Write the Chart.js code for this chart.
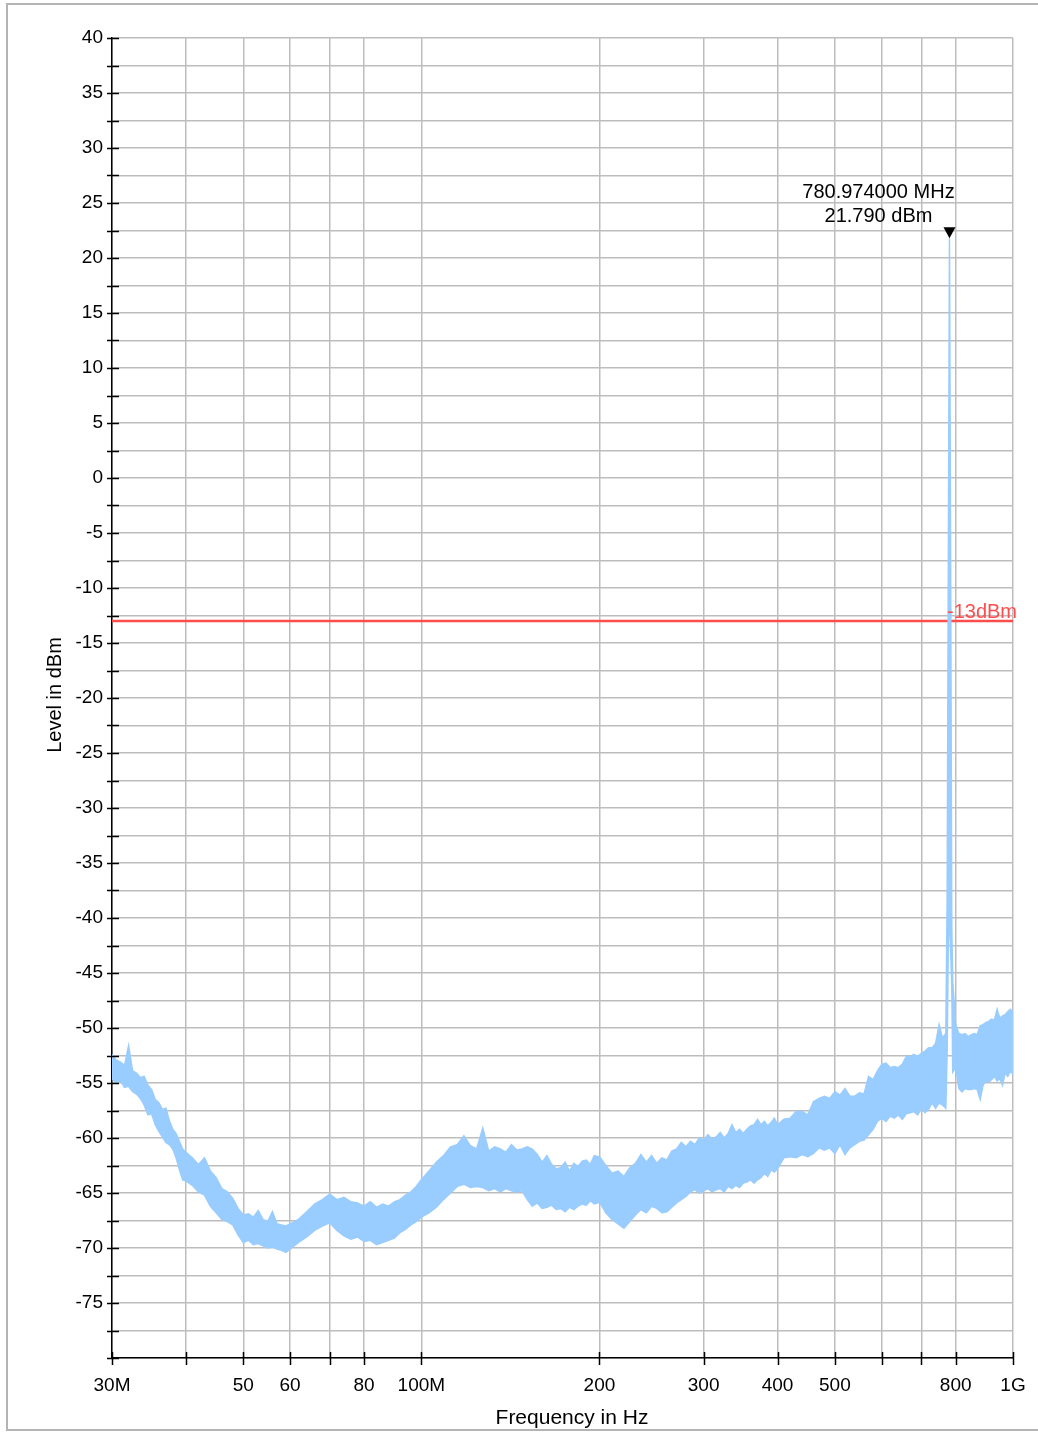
<!DOCTYPE html>
<html lang="en">
<head>
<meta charset="UTF-8">
<title>Spectrum 30 MHz - 1 GHz</title>
<script src="https://cdn.jsdelivr.net/npm/chart.js"></script>
<style>
  body { margin: 0; background: #fff; }
  canvas { display: block; }
</style>
</head>
<body>
<canvas id="spectrum" width="1038" height="1432"></canvas>
<script>
// trace samples, frequency in MHz, upper / lower edge of the noisy trace in dBm
const freqMHz = [
  30, 30.5, 31, 31.5, 32, 32.5, 33, 33.5, 34, 34.5, 35, 35.5, 36, 36.5, 37, 37.5, 38, 38.5, 39, 39.5, 40,
  41, 42, 43, 44, 45, 46, 47, 48, 49, 50, 51, 52, 53, 54, 55, 56, 57, 58, 59, 60,
  62, 64, 66, 68, 70, 72, 74, 76, 78, 80, 82, 84, 86, 88, 90, 92, 94, 96, 98, 100,
  103, 106, 109, 112, 115, 118, 121, 124, 127, 130, 133, 136, 139, 142, 145, 148, 151, 154, 157, 160,
  163, 166, 169, 172, 175, 178, 181, 184, 187, 190, 193, 196, 199, 200,
  205, 210, 215, 220, 225, 230, 235, 240, 245, 250, 255, 260, 265, 270, 275, 280, 285, 290, 295, 300,
  305, 310, 315, 320, 325, 330, 335, 340, 345, 350, 355, 360, 365, 370, 375, 380, 385, 390, 395, 400,
  410, 420, 430, 440, 450, 460, 470, 480, 490, 500, 510, 520, 530, 540, 550, 560, 570, 580, 590, 600,
  610, 620, 630, 640, 650, 660, 670, 680, 690, 700, 710, 720, 730, 740, 750, 760, 770,
  774, 777.5, 780.974, 784.5, 788, 791,
  800, 810, 820, 830, 840, 850, 860, 870, 880, 890, 900, 910, 920, 930, 940, 950, 960, 970, 980, 990, 1000
];
const levelMax = [
  -52.4, -52.9, -53.1, -53.4, -51.6, -53.9, -54.1, -54.5, -54.4, -55.2, -55.6, -56.5, -56.8, -57.4, -57.3, -58.4, -59.2, -59.6, -60.3, -61.0, -61.3,
  -61.8, -62.4, -61.8, -63.0, -63.6, -64.6, -64.9, -65.5, -66.4, -67.0, -66.9, -67.2, -66.6, -67.4, -67.6, -66.7, -67.8, -67.9, -68.0, -67.8,
  -67.4, -66.7, -66.0, -65.6, -65.1, -65.6, -65.4, -65.8, -65.9, -66.2, -65.8, -66.3, -66.0, -66.2, -65.8, -65.6, -65.2, -64.9, -64.4, -63.8,
  -63.0, -62.2, -61.6, -60.8, -60.6, -59.8, -60.7, -61.0, -59.1, -61.2, -60.8, -61.0, -61.3, -60.6, -61.1, -61.0, -60.8, -61.0, -61.5, -62.2,
  -61.6, -62.4, -62.8, -62.7, -62.2, -63.0, -62.3, -62.6, -62.1, -62.0, -62.4, -61.6, -61.7, -61.7,
  -62.5, -63.2, -63.0, -63.5, -62.7, -62.3, -61.5, -62.2, -61.6, -62.3, -61.8, -62.0, -61.2, -61.0, -60.4, -60.8, -60.3, -60.6, -60.0, -60.2,
  -59.7, -60.1, -59.9, -59.5, -60.0, -59.6, -58.8, -59.5, -59.2, -59.6, -59.2, -58.9, -58.8, -58.3, -58.8, -58.5, -58.9, -58.6, -58.2, -58.8,
  -58.3, -58.2, -57.6, -57.6, -57.9, -56.7, -56.4, -56.2, -56.4, -55.8, -56.1, -55.5, -56.2, -56.2, -55.9, -56.0, -54.4, -54.7, -53.9, -53.3,
  -53.2, -53.6, -53.5, -53.6, -53.3, -52.6, -52.6, -52.4, -52.6, -52.3, -52.1, -51.8, -51.8, -51.4, -49.7, -50.9, -50.5,
  -38.0, -7.6, 21.79, -7.4, -41.0, -45.8,
  -49.7, -50.5, -50.6, -50.5, -50.8, -50.6, -50.5, -50.6, -49.8, -49.7, -49.5, -49.4, -49.2, -49.3, -48.3, -49.1, -48.9, -48.8, -48.5, -48.3, -48.6
];
const levelMin = [
  -54.6, -55.0, -54.8, -55.4, -55.3, -55.8, -56.0, -56.4, -57.0, -57.9, -57.8, -58.8, -59.4, -59.9, -60.4, -60.6, -61.0, -61.8, -62.9, -63.8, -63.9,
  -64.3, -64.9, -65.2, -66.2, -66.8, -67.4, -67.6, -67.9, -68.8, -69.5, -69.3, -69.7, -69.6, -69.8, -70.0, -69.9, -70.1, -70.2, -70.4, -70.1,
  -69.5, -69.0, -68.4, -68.0, -67.7, -68.4, -68.9, -69.2, -69.0, -69.4, -69.3, -69.7, -69.5, -69.3, -69.1, -68.6, -68.3, -67.9, -67.6, -67.2,
  -66.8, -66.3, -65.6, -65.0, -64.4, -64.2, -64.5, -64.4, -64.5, -64.8, -64.6, -64.9, -64.6, -64.8, -64.9, -64.8, -65.6, -66.2, -65.9, -66.4,
  -66.3, -66.1, -66.5, -66.4, -66.7, -66.3, -66.5, -66.2, -66.0, -66.1, -65.7, -66.0, -65.9, -65.8,
  -66.8, -67.4, -67.8, -68.2, -67.6, -67.0, -66.5, -66.8, -66.2, -66.4, -66.8, -66.7, -66.3, -65.9, -65.6, -65.3, -64.9, -64.7, -65.0, -64.8,
  -64.6, -64.9, -64.7, -64.6, -64.9, -64.4, -64.6, -64.3, -64.5, -64.1, -64.0, -63.8, -64.1, -63.8, -63.6, -63.2, -63.5, -62.9, -63.1, -62.8,
  -61.8, -61.7, -61.8, -61.5, -61.7, -61.4, -60.9, -61.1, -60.9, -61.4, -60.6, -61.5, -60.9, -60.6, -60.3, -60.2, -59.7, -59.2, -58.5, -58.2,
  -58.5, -58.0, -58.2, -57.9, -58.3, -57.8, -57.7, -57.6, -57.9, -57.3, -57.7, -57.4, -56.8, -57.3, -56.8, -57.0, -57.3,
  -52.0, -42.0, -40.0, -43.0, -46.0, -54.0,
  -53.6, -55.5, -55.8, -55.5, -55.6, -55.6, -55.5, -55.6, -56.5, -55.2, -54.8, -54.9, -54.7, -54.4, -54.8, -54.6, -55.2, -54.1, -54.4, -53.9, -54.2
];

// axis ticks (MHz) and the labels shown under them
const xTicksMHz = [30, 40, 50, 60, 70, 80, 100, 200, 300, 400, 500, 600, 700, 800, 1000];
const xTickLabels = { 30: '30M', 50: '50', 60: '60', 80: '80', 100: '100M', 200: '200', 300: '300', 400: '400', 500: '500', 800: '800', 1000: '1G' };

const limitLevel = -13;
const limitLabel = '-13dBm';
const markerFreqMHz = 780.974;
const markerLevel = 21.79;
const markerLines = ['780.974000 MHz', '21.790 dBm'];

const FONT = '"Liberation Sans", Arial, sans-serif';
const TRACE = '#99ccff';
const LIMIT = '#ff4d4d';

const upper = freqMHz.map((f, i) => ({ x: f * 1e6, y: levelMax[i] }));
const lower = freqMHz.map((f, i) => ({ x: f * 1e6, y: levelMin[i] }));
const limit = [{ x: 30e6, y: limitLevel }, { x: 1e9, y: limitLevel }];

// frame, tick marks, axis titles, limit label and peak marker
const decorations = {
  id: 'decorations',
  beforeDraw(chart) {
    const ctx = chart.ctx;
    ctx.save();
    ctx.fillStyle = '#fff';
    ctx.fillRect(0, 0, chart.width, chart.height);
    ctx.strokeStyle = '#b4b4b4';
    ctx.lineWidth = 2;
    ctx.strokeRect(7, 4, 1040, 1426);
    ctx.restore();
  },
  afterDraw(chart) {
    const { ctx, chartArea: a, scales: { x, y } } = chart;
    ctx.save();
    ctx.strokeStyle = '#000';
    ctx.lineWidth = 1.5;
    ctx.beginPath();
    y.ticks.forEach(t => {
      const py = Math.round(y.getPixelForValue(t.value)) + 0.5;
      ctx.moveTo(a.left - 5, py);
      ctx.lineTo(a.left + 7, py);
    });
    x.ticks.forEach(t => {
      const px = Math.round(x.getPixelForValue(t.value)) + 0.5;
      ctx.moveTo(px, a.bottom - 6);
      ctx.lineTo(px, a.bottom + 7);
    });
    ctx.stroke();

    ctx.fillStyle = '#000';
    ctx.textAlign = 'center';
    ctx.textBaseline = 'middle';
    ctx.font = '21px ' + FONT;
    ctx.fillText('Frequency in Hz', 572, 1418);
    ctx.save();
    ctx.translate(55, (a.top + a.bottom) / 2 - 3);
    ctx.rotate(-Math.PI / 2);
    ctx.font = '20px ' + FONT;
    ctx.fillText('Level in dBm', 0, 0);
    ctx.restore();

    // limit label
    const ly = y.getPixelForValue(limitLevel);
    ctx.fillStyle = LIMIT;
    ctx.font = '20px ' + FONT;
    ctx.textAlign = 'right';
    ctx.textBaseline = 'alphabetic';
    ctx.fillText(limitLabel, a.right + 4, ly - 3);

    // peak marker
    const mx = x.getPixelForValue(markerFreqMHz * 1e6);
    const my = y.getPixelForValue(markerLevel);
    ctx.fillStyle = '#000';
    ctx.beginPath();
    ctx.moveTo(mx - 6, my - 11);
    ctx.lineTo(mx + 6, my - 11);
    ctx.lineTo(mx, my);
    ctx.closePath();
    ctx.fill();
    ctx.textAlign = 'center';
    ctx.textBaseline = 'middle';
    ctx.font = '20px ' + FONT;
    ctx.fillText(markerLines[0], mx - 71, my - 46);
    ctx.fillText(markerLines[1], mx - 71, my - 22);
    ctx.restore();
  }
};

new Chart(document.getElementById('spectrum'), {
  type: 'line',
  data: {
    datasets: [
      { data: upper, borderColor: TRACE, backgroundColor: TRACE, borderWidth: 1.5, pointRadius: 0, fill: '+1', tension: 0 },
      { data: lower, borderColor: TRACE, backgroundColor: TRACE, borderWidth: 1.5, pointRadius: 0, fill: false, tension: 0 },
      { data: limit, borderColor: LIMIT, borderWidth: 2.5, pointRadius: 0, fill: false }
    ]
  },
  options: {
    responsive: false,
    animation: false,
    layout: { padding: { left: 0, right: 25, top: 38, bottom: 0 } },
    plugins: { legend: { display: false }, tooltip: { enabled: false } },
    scales: {
      x: {
        type: 'logarithmic',
        min: 30e6,
        max: 1e9,
        afterBuildTicks: scale => { scale.ticks = xTicksMHz.map(v => ({ value: v * 1e6 })); },
        afterFit: scale => { scale.height = 74; },
        // invisible tick marks only push the labels down; real marks are drawn by the plugin
        grid: { color: '#bdbdbd', lineWidth: 1.5, drawTicks: true, tickLength: 14, tickColor: 'rgba(0,0,0,0)' },
        border: { color: '#000', width: 1.5 },
        ticks: {
          autoSkip: false,
          maxRotation: 0,
          padding: 2,
          color: '#000',
          font: { family: FONT, size: 19 },
          callback: v => xTickLabels[Math.round(v / 1e6)] || ''
        }
      },
      y: {
        min: -80,
        max: 40,
        afterFit: scale => { scale.width = 112; },
        grid: { color: '#bdbdbd', lineWidth: 1.5, drawTicks: false },
        border: { color: '#000', width: 1.5 },
        ticks: {
          stepSize: 2.5,
          autoSkip: false,
          padding: 9,
          color: '#000',
          font: { family: FONT, size: 19 },
          callback: v => (v % 5 === 0 && v > -80) ? String(v) : ''
        }
      }
    }
  },
  plugins: [decorations]
});
</script>
</body>
</html>
